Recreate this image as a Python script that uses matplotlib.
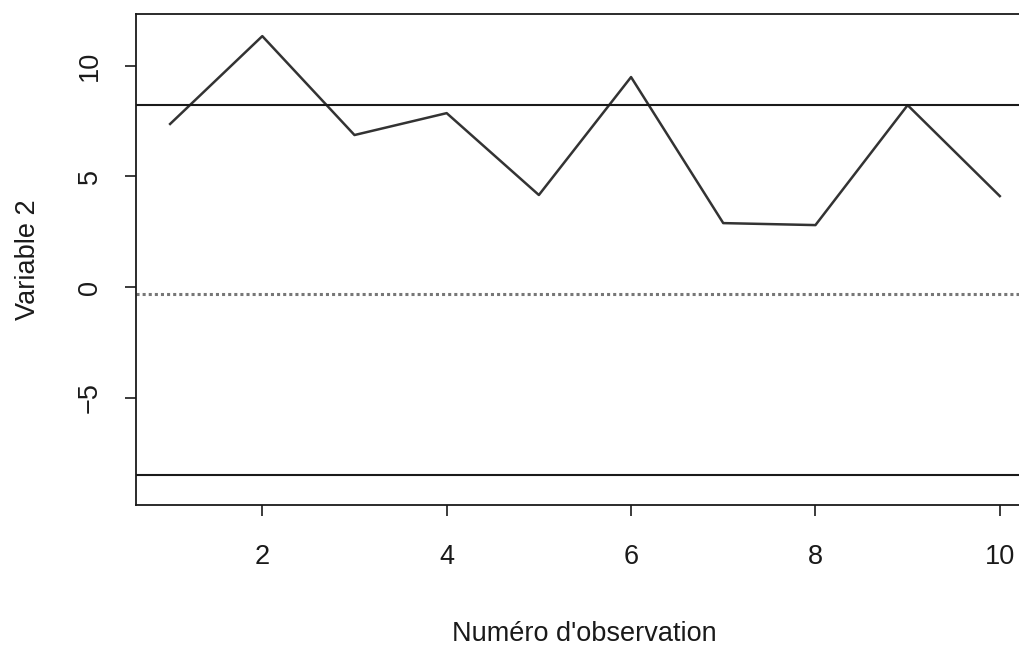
import matplotlib
matplotlib.use("Agg")
import matplotlib.pyplot as plt

plt.rcParams['font.family'] = ['Liberation Sans', 'DejaVu Sans']

obs = [1, 2, 3, 4, 5, 6, 7, 8, 9, 10]
var2 = [7.37, 11.34, 6.87, 7.86, 4.16, 9.49, 2.89, 2.80, 8.22, 4.11]
lsc = 8.22
centre = -0.33
lic = -8.5

fig = plt.figure(figsize=(10.2, 6.47), dpi=100)
ax = fig.add_axes([136/1020, 142/647, 897/1020, 491/647])

ax.plot(obs, var2, color='#333333', lw=1.8)
ax.axhline(lsc, color='#1a1a1a', lw=1.5)
ax.axhline(lic, color='#1a1a1a', lw=1.5)
ax.axhline(centre, color='#777777', lw=2.2, ls=(0, (1, 1)))

ax.set_xlim(0.63, 10.36)
ax.set_ylim(-9.85, 12.34)
ax.set_xticks([2, 4, 6, 8, 10])
ax.set_yticks([-5, 0, 5, 10])
ax.tick_params(axis='both', length=8, width=1.2, labelsize=19.5, colors='#1a1a1a')
ax.tick_params(axis='x', pad=20)
ax.tick_params(axis='y', pad=16)
for lab in ax.get_yticklabels():
    lab.set_rotation(90)
    lab.set_va('center')
for s in ax.spines.values():
    s.set_linewidth(1.3)
    s.set_color('#1a1a1a')

ax.set_xlabel("Numéro d'observation", fontsize=19.5, color='#1a1a1a', va='baseline')
ax.set_ylabel("Variable 2", fontsize=19.5, color='#1a1a1a', va='baseline')
ax.xaxis.set_label_coords(0.5, (505 - 641) / 491)
ax.yaxis.set_label_coords((35 - 136) / 897, 0.5)

fig.savefig("out.png", dpi=100)
